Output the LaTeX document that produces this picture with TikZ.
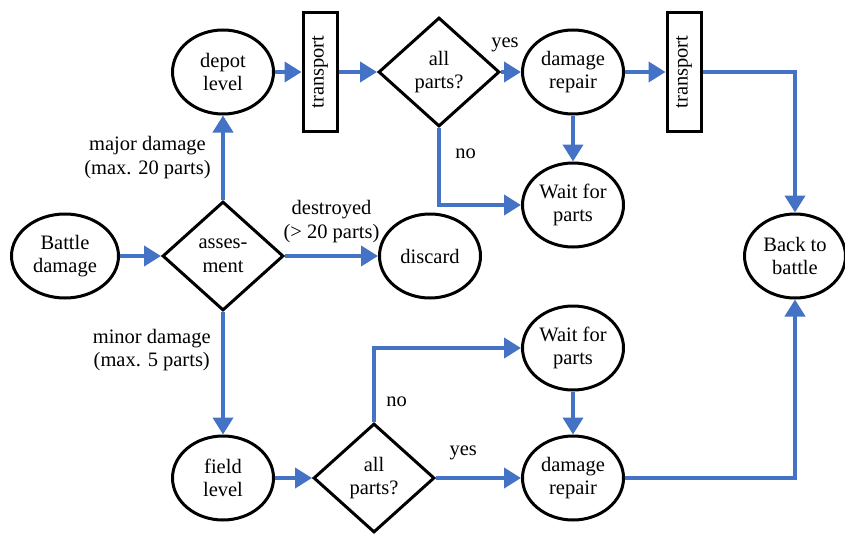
\documentclass[tikz,border=0pt]{standalone}
\usepackage{fontspec}
\setmainfont{Liberation Serif}
\usetikzlibrary{shapes.geometric, arrows.meta}
\definecolor{flowblue}{RGB}{68,114,196}
\tikzstyle{state} = [ellipse, draw, line width=3pt, minimum width=101pt, minimum height=84pt, inner sep=0pt, align=center]
\tikzstyle{decision} = [diamond, draw, line width=3pt, minimum width=121pt, minimum height=109pt, inner sep=0pt, align=center]
\tikzstyle{carrier} = [rectangle, draw, line width=3pt, minimum width=34pt, minimum height=118pt, inner sep=0pt]
\tikzstyle{arrow} = [flowblue, line width=4pt, -{Triangle[length=17pt,width=20pt]}]
\tikzstyle{tag} = [align=center, text=black]

\begin{document}
\begin{tikzpicture}[x=1pt, y=-1pt, font=\fontsize{20.5}{23.5}\selectfont]
	\useasboundingbox (0,0) rectangle (845,535);
	% nodes
	\node[state, minimum width=107pt] (battle) at (65,256) {Battle\\damage};
	\node[decision] (assess) at (223,256) {asses-\\ment};
	\node[state] (depot) at (223,72) {depot\\level};
	\node[state] (discard) at (430,256) {discard};
	\node[state] (field) at (223,478) {field\\level};
	\node[carrier] (trans1) at (320,72) {\rotatebox{90}{transport}};
	\node[decision] (query1) at (439,72) {all\\parts?};
	\node[state] (repair1) at (573,72) {damage\\repair};
	\node[carrier] (trans2) at (684,72) {\rotatebox{90}{transport}};
	\node[state] (wait1) at (573,205) {Wait for\\parts};
	\node[state] (back) at (795,256) {Back to\\battle};
	\node[decision] (query2) at (374,478) {all\\parts?};
	\node[state] (wait2) at (573,348) {Wait for\\parts};
	\node[state] (repair2) at (573,478) {damage\\repair};
	% connectors
	\draw[arrow] (battle) -- (assess);
	\draw[arrow] (assess) -- node[tag, midway, left=7pt] {major damage\\(max. 20 parts)} (depot);
	\draw[arrow] (assess) -- node[tag, midway, above=8pt] {destroyed\\(> 20 parts)} (discard);
	\draw[arrow] (assess) -- node[tag, pos=0.31, left=7pt] {minor damage\\(max. 5 parts)} (field);
	\draw[arrow] (depot) -- (trans1);
	\draw[arrow] (trans1) -- (query1);
	\draw[arrow] (query1) -- node[tag, pos=0.2, above=15pt] {yes} (repair1);
	\draw[arrow] (query1) |- node[tag, pos=0.17, right=11pt] {no} (wait1);
	\draw[arrow] (repair1) -- (wait1);
	\draw[arrow] (repair1) -- (trans2);
	\draw[arrow] (trans2) -| (back);
	\draw[arrow] (field) -- (query2);
	\draw[arrow] (query2) |- node[tag, pos=0.14, right=7pt] {no} (wait2);
	\draw[arrow] (query2) -- node[tag, pos=0.32, above=13pt] {yes} (repair2);
	\draw[arrow] (wait2) -- (repair2);
	\draw[arrow] (repair2) -| (back);
\end{tikzpicture}
\end{document}
